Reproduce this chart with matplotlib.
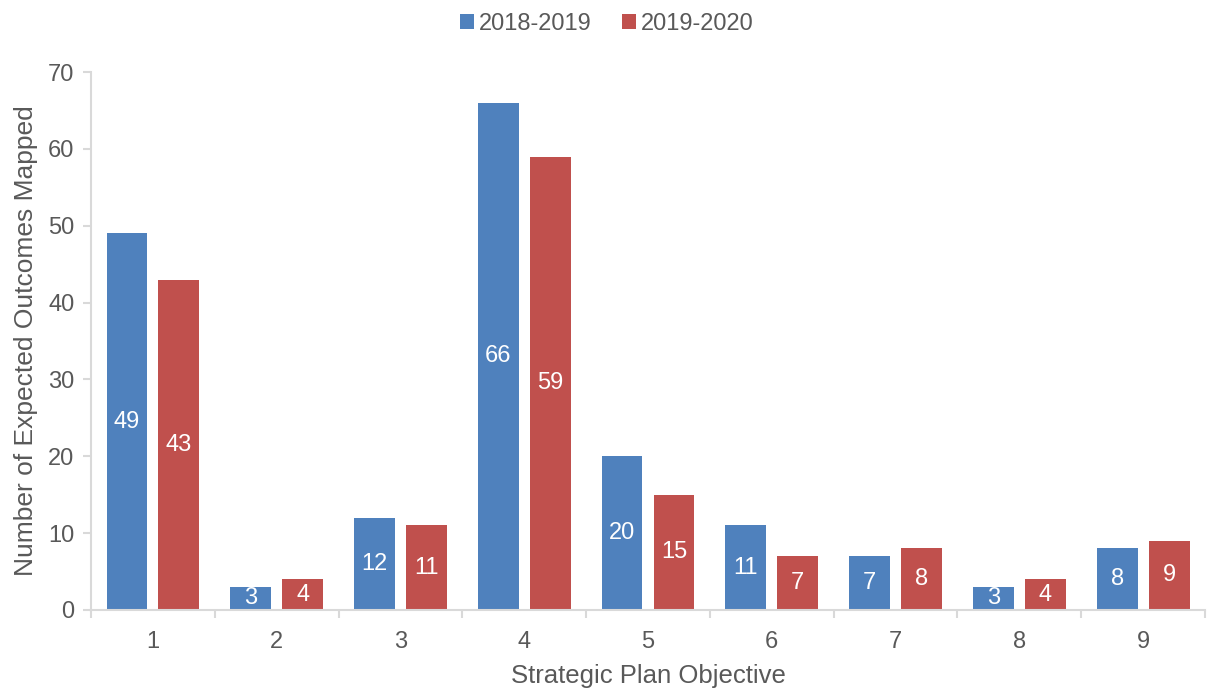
import numpy as np
import matplotlib.pyplot as plt
from matplotlib.ticker import FixedLocator

plt.rcParams['font.family'] = ['Liberation Sans', 'DejaVu Sans']

objectives = ['1', '2', '3', '4', '5', '6', '7', '8', '9']
year_2018 = [49, 3, 12, 66, 20, 11, 7, 3, 8]
year_2019 = [43, 4, 11, 59, 15, 7, 8, 4, 9]

blue = '#4F81BD'
red = '#C0504D'
grey = '#595959'
axis_grey = '#D9D9D9'

fig = plt.figure(figsize=(12.09, 6.89), dpi=100)
ax = fig.add_axes([0.0753, 0.1147, 0.9214, 0.7808])

x = np.arange(len(objectives))
w = 0.33
off = 0.21
b1 = ax.bar(x - off, year_2018, w, color=blue, label='2018-2019')
b2 = ax.bar(x + off, year_2019, w, color=red, label='2019-2020')

# value labels in the middle of each bar
for bars in (b1, b2):
    for rect in bars:
        h = rect.get_height()
        ax.text(rect.get_x() + rect.get_width() / 2, h / 2, f'{h:g}',
                ha='center', va='center', color='white', fontsize=17)

ax.set_xlim(-0.5, len(objectives) - 0.5)
ax.set_ylim(0, 70)
ax.set_yticks(range(0, 71, 10))
ax.set_xticks(x)
ax.set_xticklabels(objectives)
ax.xaxis.set_minor_locator(FixedLocator(np.arange(-0.5, len(objectives), 1)))
ax.tick_params(axis='x', which='major', length=0, pad=15, labelsize=17, labelcolor=grey)
ax.tick_params(axis='x', which='minor', length=6, color=axis_grey, width=1.5)
ax.tick_params(axis='y', length=6, color=axis_grey, width=1.5, labelsize=17,
               labelcolor=grey, pad=6)

for s in ['top', 'right']:
    ax.spines[s].set_visible(False)
for s in ['left', 'bottom']:
    ax.spines[s].set_color(axis_grey)
    ax.spines[s].set_linewidth(1.5)

ax.set_xlabel('Strategic Plan Objective', fontsize=18.5, color=grey, labelpad=8)
ax.set_ylabel('Number of Expected Outcomes Mapped', fontsize=19, color=grey, labelpad=7)

fig.legend(loc='upper center', bbox_to_anchor=(0.502, 1.012), ncol=2, frameon=False,
           fontsize=17, handlelength=0.6, handleheight=0.6, handletextpad=0.2,
           columnspacing=1.3, labelcolor=grey)

fig.savefig('out.png', dpi=100)
